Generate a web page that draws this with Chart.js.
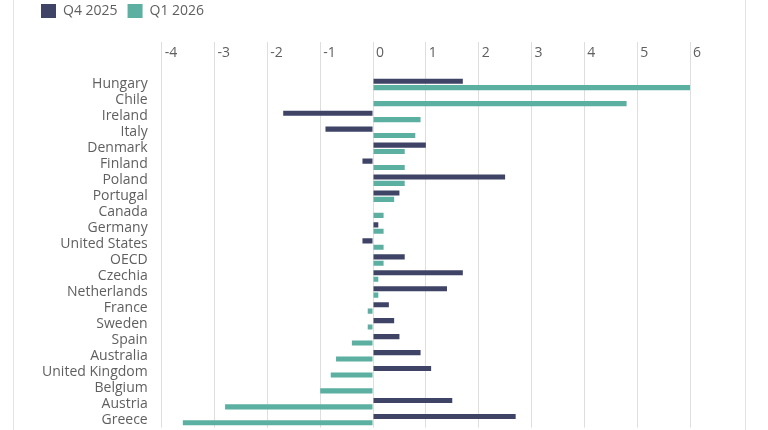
<!DOCTYPE html>
<html>
<head>
<meta charset="utf-8">
<script src="https://cdn.jsdelivr.net/npm/chart.js@4"></script>
<style>
  html, body { margin: 0; padding: 0; background: #fff; }
  #wrap { position: relative; width: 768px; height: 430px; }
  #frame {
    position: absolute; left: 13px; top: 0; width: 731px; height: 430px;
    border-left: 1px solid #e2e2e2; border-right: 1px solid #e2e2e2;
  }
  #chart { position: absolute; left: 0; top: 0; }
</style>
</head>
<body>
<div id="wrap">
  <div id="frame"></div>
  <canvas id="chart" width="768" height="430"></canvas>
</div>
<script>
// ---- Data ----
const countries = [
  'Hungary', 'Chile', 'Ireland', 'Italy', 'Denmark', 'Finland', 'Poland',
  'Portugal', 'Canada', 'Germany', 'United States', 'OECD', 'Czechia',
  'Netherlands', 'France', 'Sweden', 'Spain', 'Australia', 'United Kingdom',
  'Belgium', 'Austria', 'Greece'
];
const q4_2025 = [1.7, 0, -1.7, -0.9, 1.0, -0.2, 2.5, 0.5, 0, 0.1, -0.2, 0.6, 1.7, 1.4, 0.3, 0.4, 0.5, 0.9, 1.1, 0, 1.5, 2.7];
const q1_2026 = [6.0, 4.8, 0.9, 0.8, 0.6, 0.6, 0.6, 0.4, 0.2, 0.2, 0.2, 0.2, 0.1, 0.1, -0.1, -0.1, -0.4, -0.7, -0.8, -1.0, -2.8, -3.6];
const seriesNames = ['Q4 2025', 'Q1 2026'];
const xMin = -4, xMax = 6;

const DARK = '#3f4467';
const TEAL = '#5bb0a1';
const GRID = '#dedede';
const TEXT = '#5f5f5f';
const FONT = "'Open Sans', 'Noto Sans', sans-serif";

new Chart(document.getElementById('chart'), {
  type: 'bar',
  data: {
    labels: countries,
    datasets: [
      { label: seriesNames[0], data: q4_2025, backgroundColor: DARK, borderWidth: 0,
        categoryPercentage: 0.8, barPercentage: 0.8 },
      { label: seriesNames[1], data: q1_2026, backgroundColor: TEAL, borderWidth: 0,
        categoryPercentage: 0.8, barPercentage: 0.8 }
    ]
  },
  options: {
    indexAxis: 'y',
    responsive: false,
    animation: false,
    layout: { padding: { top: -6, left: 31, right: 78, bottom: 1.5 } },
    plugins: {
      legend: {
        position: 'top', align: 'start',
        labels: {
          boxWidth: 15, boxHeight: 14, padding: 10, color: TEXT,
          font: { family: FONT, size: 14 }
        }
      },
      tooltip: { enabled: false }
    },
    scales: {
      x: {
        position: 'top',
        min: xMin, max: xMax,
        grid: { color: GRID, lineWidth: 1, drawTicks: true, tickLength: 34.5, tickColor: GRID },
        border: { display: false },
        ticks: {
          stepSize: 1, autoSkip: false, maxRotation: 0,
          align: 'start', labelOffset: 3, padding: -19.8,
          color: TEXT, font: { family: FONT, size: 14 }
        },
        afterFit: s => { s.height = 48.5; }
      },
      y: {
        // invisible tick marks only push the labels away from the plot
        grid: { display: true, drawOnChartArea: false, drawTicks: true, tickLength: 20,
                color: 'rgba(0,0,0,0)' },
        border: { display: false },
        ticks: {
          autoSkip: false, padding: -6, color: TEXT,
          font: { family: FONT, size: 14 }
        },
        afterFit: s => { s.width = 130.7; }
      }
    }
  }
});
</script>
</body>
</html>
